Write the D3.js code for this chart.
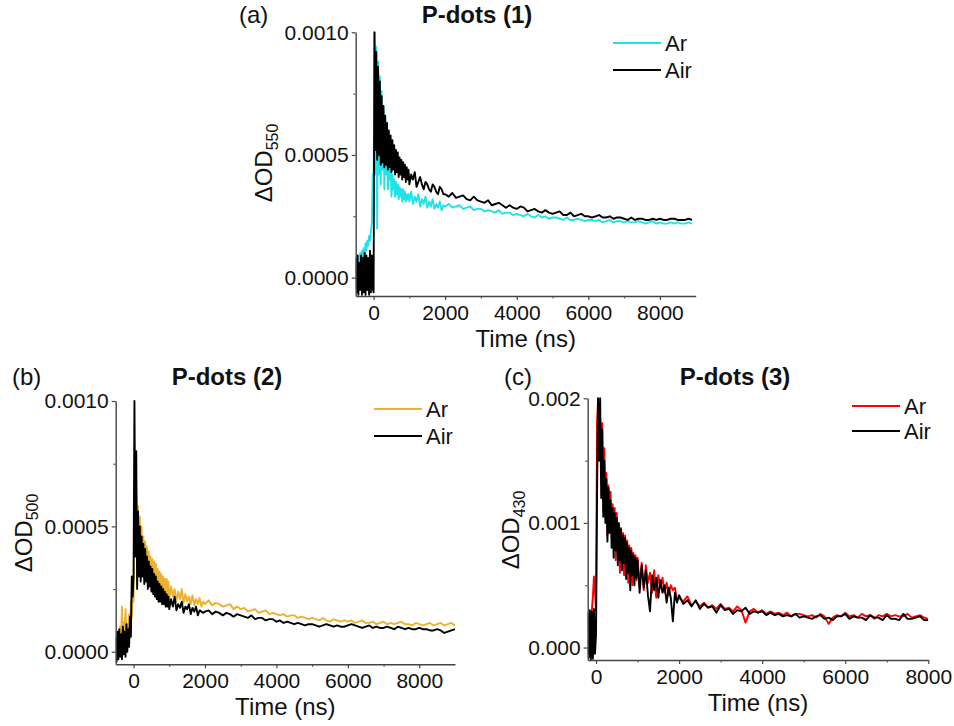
<!DOCTYPE html>
<html>
<head>
<meta charset="utf-8">
<title>P-dots transient absorption</title>
<script src="https://cdn.jsdelivr.net/npm/d3@7"></script>
<style>
    body { margin: 0; background: #fff; }
    text { font-family: "Liberation Sans", Arial, sans-serif; fill: #111; }
</style>
</head>
<body>
<script>

    const width = 954;
    const height = 726;

    // all ΔOD values below are in units of 1e-5
    const odUnit = 1e-5;

    // time grid (ns) for panels (a) and (b)
    const timeAB = [
        -500, -475, -450, -425, -400, -375, -350, -325, -300, -275, -250, -225, -200, -175, -150, -125, -100, -75, -50, -25,
        0, 25, 50, 75, 100, 125, 150, 175, 200, 225, 250, 275, 300, 325, 350, 375, 400, 425, 450, 475,
        500, 525, 550, 575, 600, 625, 650, 675, 700, 725, 750, 775, 800, 825, 850, 875, 900, 925, 950, 975,
        1000, 1050, 1100, 1150, 1200, 1250, 1300, 1350, 1400, 1450, 1500, 1550, 1600, 1650, 1700, 1750, 1800, 1850, 1900, 1950,
        2000, 2100, 2200, 2300, 2400, 2500, 2600, 2700, 2800, 2900, 3000, 3100, 3200, 3300, 3400, 3500, 3600, 3700, 3800, 3900,
        4000, 4100, 4200, 4300, 4400, 4500, 4600, 4700, 4800, 4900, 5000, 5100, 5200, 5300, 5400, 5500, 5600, 5700, 5800, 5900,
        6000, 6100, 6200, 6300, 6400, 6500, 6600, 6700, 6800, 6900, 7000, 7100, 7200, 7300, 7400, 7500, 7600, 7700, 7800, 7900,
        8000, 8100, 8200, 8300, 8400, 8500, 8600, 8700, 8800, 8900, 9000
    ];

    // time grid (ns) for panel (c)
    const timeC = [
        -200, -175, -150, -125, -100, -75, -50, -25,
        0, 25, 50, 75, 100, 125, 150, 175, 200, 225, 250, 275, 300, 325, 350, 375, 400, 425, 450, 475,
        500, 525, 550, 575, 600, 625, 650, 675, 700, 725, 750, 775, 800, 825, 850, 875, 900, 925, 950, 975,
        1000, 1050, 1100, 1150, 1200, 1250, 1300, 1350, 1400, 1450, 1500, 1550, 1600, 1650, 1700, 1750, 1800, 1850, 1900, 1950,
        2000, 2100, 2200, 2300, 2400, 2500, 2600, 2700, 2800, 2900, 3000, 3100, 3200, 3300, 3400, 3500, 3600, 3700, 3800, 3900,
        4000, 4100, 4200, 4300, 4400, 4500, 4600, 4700, 4800, 4900, 5000, 5100, 5200, 5300, 5400, 5500, 5600, 5700, 5800, 5900,
        6000, 6100, 6200, 6300, 6400, 6500, 6600, 6700, 6800, 6900, 7000, 7100, 7200, 7300, 7400, 7500, 7600, 7700, 7800, 7900,
        8000
    ];

    // (a) P-dots (1), ΔOD at 550 nm
    const arA = [
        -4, 8, 2, 9, 5, 10, 6, 11, 8, 12, 9, 14, 11, 15, 13, 17, 15, 19, 22, 42,
        35, 100, 42, 94, 20, 88, 42, 82, 38, 76, 44, 70, 36, 64, 42, 58, 36, 50, 40, 45,
        33, 42, 36, 40, 33, 39, 34, 38, 32, 37, 33, 36, 31, 36, 32, 35, 31, 34, 32, 34,
        31, 35, 30, 33, 31, 34, 29, 32, 30, 33, 28.5, 31, 29, 32, 28, 30, 28.5, 31, 27.5, 29.5,
        29, 30, 28.5, 29, 29.5, 28, 28.5, 29, 27.5, 28, 28, 27, 27.5, 27, 26.5, 27.5, 26, 26.5, 26.5, 25.5,
        26, 25.5, 25, 26, 25, 24.5, 25.5, 24.5, 25, 24, 24.5, 24.5, 24, 23.5, 24.5, 23.5, 23.5, 24, 23.5, 23,
        23.5, 23.5, 23, 23.5, 22.5, 23, 23.5, 22.5, 23, 23, 22.5, 23, 22.5, 22.5, 23, 22.5, 22, 22.5, 23, 22,
        22.5, 22, 22, 22.5, 22, 22.5, 22, 22, 22.5, 22
    ];
    const airA = [
        8, -6, 9, -7, 6, -5, 9, -7, 8, -6, 10, -7, 9, -5, 8, -7, 11, -6, 9, -4,
        -6, 100, 52, 92, 48, 86, 50, 80, 46, 74, 47, 70, 45, 66, 46, 63, 44, 60, 45, 58,
        43, 56, 44, 54, 42, 52, 43, 51, 41, 49, 42, 48, 40, 47, 41, 46, 39, 45, 40, 44,
        38, 42, 40, 43, 37, 39, 41, 38, 36, 39, 38, 36, 35, 38, 37, 35, 34, 37, 36, 34,
        34, 33, 34.5, 32.5, 33, 33.5, 32, 31.5, 33, 31.5, 31, 30.5, 31.5, 29.5, 30, 30.5, 29.5, 28.5, 29.5, 28.5,
        28, 29, 28.5, 27, 27.5, 28, 27, 26.5, 27.5, 26.5, 26, 26.5, 27, 25.5, 25.5, 26.5, 25, 25.5, 26, 25,
        25, 24.5, 25, 25.5, 24.5, 24.5, 25, 24, 24.5, 24.5, 24, 23.5, 24.5, 23.5, 24, 24, 23.5, 23.5, 24, 23.5,
        24, 23.5, 23.5, 24, 24, 23.5, 23.5, 23.5, 24, 23.5
    ];

    // (b) P-dots (2), ΔOD at 500 nm
    const arB = [
        -4, 6, 2, 8, 4, 10, 5, 18, 6, 12, 8, 17, 7, 11, 9, 15, 10, 20, 14, 24,
        20, 60, 50, 64, 40, 58, 34, 54, 33, 50, 32, 46, 30, 44, 30, 42, 28, 40, 28, 38,
        27, 37, 26, 36, 25, 35, 24, 33, 24, 32, 23, 31, 23, 30, 22, 29, 22, 29, 21, 28,
        21, 26, 22, 25, 20, 24, 21, 25, 19.5, 23, 20, 22, 19, 22.5, 18.5, 21, 19, 21.5, 18, 20,
        19, 20.5, 18.5, 19.5, 19, 18, 18.5, 19, 17, 18, 17, 17.5, 16, 16.5, 17, 15.5, 16, 16.5, 15, 15.5,
        15, 14.5, 15, 14, 14.5, 14.5, 13.5, 14, 13.5, 13, 13.5, 13, 12.5, 13.5, 12.5, 12, 13, 12.5, 12, 12.5,
        12, 12.5, 11.5, 12, 12.5, 11.5, 11.5, 12, 11, 11.5, 12, 11, 11.5, 11, 11.5, 12, 11, 11, 10.5, 11.5,
        11, 10.5, 11, 11.5, 10.5, 11, 11.5, 10.5, 11, 11.5, 10.5
    ];
    const airB = [
        6, -4, 8, -3, 9, -2, 7, -3, 10, -1, 8, -2, 11, 0, 9, 2, 14, 6, 30, 22,
        30, 100, 38, 80, 25, 56, 30, 50, 28, 46, 30, 43, 27, 41, 28, 38, 25, 36, 26, 34,
        24, 33, 23, 31, 22, 30, 21, 28, 20, 27, 20, 26, 19, 25, 19, 24, 18, 23, 18, 22,
        17, 21, 18, 22, 16.5, 19, 17.5, 20, 15.5, 18, 17, 19, 15, 17.5, 16, 18, 14.5, 16.5, 16, 15.5,
        16, 16.5, 15, 16, 15.5, 14.5, 15.5, 15, 14, 15, 14.5, 14, 13.5, 14.5, 13, 13.5, 13.5, 12.5, 13, 13,
        12, 12.5, 11.5, 12, 11.5, 11, 11.5, 11, 10.5, 11, 11, 10.5, 10, 10.5, 11, 10.5, 10, 10.5, 10, 10,
        10.5, 11, 10.5, 10, 9.5, 10, 10.5, 9.5, 10, 9.5, 9.5, 10, 9.5, 9, 10, 9.5, 9, 9.5, 9, 9,
        9.5, 9, 9, 8.5, 8.5, 9, 8.5, 7.5, 8, 8.5, 9
    ];

    // (c) P-dots (3), ΔOD at 430 nm
    const arC = [
        -5, 10, 20, 25, 30, 41, 57, 45,
        30, 180, 200, 160, 185, 140, 180, 110, 160, 120, 140, 90, 130, 100, 125, 95, 115, 80, 112, 70,
        108, 75, 98, 60, 96, 72, 92, 58, 90, 66, 86, 52, 82, 62, 80, 50, 76, 60, 74, 54,
        72, 50, 68, 46, 66, 52, 60, 44, 62, 40, 58, 48, 56, 44, 52, 42, 50, 46, 48, 38,
        40, 37, 41, 34, 37, 33, 36, 32, 34, 31, 35, 31, 32, 29, 33, 30, 20, 29, 31, 28,
        30, 27, 29, 27, 28, 26, 28, 25, 27, 27, 26, 25, 26, 24, 27, 25, 19, 24, 26, 25,
        28, 25, 26, 24, 27, 25, 26, 23, 26, 25, 27, 25, 26, 25, 25, 27, 24, 25, 26, 24,
        23
    ];
    const airC = [
        28, -8, 30, -10, 29, -9, 31, -5,
        10, 120, 200, 150, 200, 120, 175, 105, 150, 100, 135, 85, 128, 92, 118, 80, 112, 72, 108, 78,
        104, 66, 100, 70, 95, 62, 90, 68, 88, 55, 84, 60, 80, 46, 78, 58, 74, 50, 72, 56,
        70, 44, 66, 48, 62, 42, 29, 58, 46, 56, 40, 54, 44, 50, 36, 48, 40, 21, 44, 36,
        42, 35, 38, 33, 38, 31, 35, 32, 33, 28, 34, 30, 31, 27, 30, 29, 32, 27, 29, 28,
        29, 26, 28, 26, 27, 25, 26, 25, 27, 24, 25, 24, 23, 25, 26, 23, 24, 22, 25, 25,
        27, 23, 25, 24, 24, 22, 26, 24, 24, 22, 26, 23, 23, 22, 27, 23, 23, 24, 25, 22,
        22
    ];

    const seriesNames = ["Ar", "Air"];
    const panelTitles = ["P-dots (1)", "P-dots (2)", "P-dots (3)"];
    const panelLetters = ["(a)", "(b)", "(c)"];
    const probeWavelengths = ["550", "500", "430"];

    const xTickValues = [0, 2000, 4000, 6000, 8000];
    const xMinorValues = [1000, 3000, 5000, 7000];
    const yTicksAB = [0, 50, 100];
    const yMinorAB = [25, 75];
    const yTicksC = [0, 100, 200];
    const yMinorC = [50, 150];

    const svg = d3.select("body").append("svg")
        .attr("width", width)
        .attr("height", height);

    const axisColor = "#444";

    const styleAxis = (g, fontSize) => {
        g.attr("font-family", null).attr("font-size", fontSize);
        g.select(".domain").attr("stroke", axisColor).attr("stroke-width", 1.4);
        g.selectAll(".tick line").attr("stroke", axisColor).attr("stroke-width", 1.2);
        g.selectAll(".tick text").attr("fill", "#111");
    };

    const drawPanel = (p) => {

        const x = d3.scaleLinear().domain(p.xDomain).range([p.left, p.right]);
        const y = d3.scaleLinear().domain(p.yDomain).range([p.bottom, p.top]);

        const clipId = "clip-" + p.id;
        svg.append("clipPath").attr("id", clipId)
            .append("rect")
            .attr("x", p.left)
            .attr("y", p.top - 1)
            .attr("width", p.right - p.left)
            .attr("height", p.bottom - p.top + 1);

        const line = d3.line()
            .x(d => x(d[0]))
            .y(d => y(d[1]));

        let g = svg.append("g").attr("clip-path", `url(#${clipId})`);

        p.series.forEach(s => {
            const pts = s.values.map((v, i) => [p.time[i], v]);
            g.append("path")
                .datum(pts)
                .attr("fill", "none")
                .attr("stroke", s.color)
                .attr("stroke-width", 1.9)
                .attr("stroke-linejoin", "round")
                .attr("d", line);
        });

        // minor ticks first, then major axes on top
        svg.append("g")
            .attr("transform", `translate(0,${p.bottom})`)
            .call(d3.axisBottom(x).tickValues(xMinorValues.filter(v => v <= p.xDomain[1]))
                .tickSize(2.5).tickFormat(""))
            .call(g => { g.select(".domain").remove(); g.selectAll("line").attr("stroke", axisColor); });

        svg.append("g")
            .attr("transform", `translate(${p.left},0)`)
            .call(d3.axisLeft(y).tickValues(p.yMinor).tickSize(2.5).tickFormat(""))
            .call(g => { g.select(".domain").remove(); g.selectAll("line").attr("stroke", axisColor); });

        svg.append("g")
            .attr("transform", `translate(0,${p.bottom})`)
            .call(d3.axisBottom(x).tickValues(xTickValues).tickSize(4).tickPadding(5).tickSizeOuter(0)
                .tickFormat(d3.format("d")))
            .call(g => styleAxis(g, 21));

        const yFmt = d3.format(p.yFormat);
        svg.append("g")
            .attr("transform", `translate(${p.left},0)`)
            .call(d3.axisLeft(y).tickValues(p.yTicks).tickSize(4).tickPadding(3).tickSizeOuter(0)
                .tickFormat(v => yFmt(v * odUnit)))
            .call(g => styleAxis(g, 21));

        // axis titles
        svg.append("text")
            .attr("x", (p.left + p.right) / 2)
            .attr("y", p.bottom + 51)
            .attr("text-anchor", "middle")
            .attr("font-size", 24)
            .text("Time (ns)");

        const yt = svg.append("text")
            .attr("transform", `translate(${p.yLabelX},${p.yLabelY}) rotate(-90)`)
            .attr("text-anchor", "middle")
            .attr("font-size", 24);
        yt.append("tspan").text("\u0394OD");
        yt.append("tspan").attr("font-size", 16).attr("dy", 6).text(p.wavelength);

        // title and panel letter
        svg.append("text")
            .attr("x", p.titleX)
            .attr("y", p.titleY)
            .attr("text-anchor", "middle")
            .attr("font-size", 24)
            .attr("font-weight", "bold")
            .text(p.title);

        svg.append("text")
            .attr("x", p.letterX)
            .attr("y", p.titleY)
            .attr("font-size", 24)
            .text(p.letter);

        // legend
        p.series.forEach((s, i) => {
            const ly = p.legendY + i * p.legendStep;
            svg.append("line")
                .attr("x1", p.legendX)
                .attr("x2", p.legendX + 48)
                .attr("y1", ly)
                .attr("y2", ly)
                .attr("stroke", s.color)
                .attr("stroke-width", 2);
            svg.append("text")
                .attr("x", p.legendX + 52)
                .attr("y", ly)
                .attr("dy", "0.36em")
                .attr("font-size", 22)
                .text(s.name);
        });
    };

    const panels = [
        {
            id: "a", time: timeAB, xDomain: [-500, 9000], yDomain: [-7.5, 100],
            left: 355.7, right: 695.7, top: 32.3, bottom: 296,
            yTicks: yTicksAB, yMinor: yMinorAB, yFormat: ".4f",
            yLabelX: 272, yLabelY: 163,
            titleX: 477, titleY: 23, letterX: 239,
            legendX: 613, legendY: 43, legendStep: 27,
            series: [
                { name: seriesNames[0], values: arA, color: "#1ee3e8" },
                { name: seriesNames[1], values: airA, color: "#000" }
            ]
        },
        {
            id: "b", time: timeAB, xDomain: [-500, 9000], yDomain: [-5, 100],
            left: 115.7, right: 455, top: 401, bottom: 664.3,
            yTicks: yTicksAB, yMinor: yMinorAB, yFormat: ".4f",
            yLabelX: 32, yLabelY: 533,
            titleX: 227, titleY: 385, letterX: 12,
            legendX: 374, legendY: 409, legendStep: 27,
            series: [
                { name: seriesNames[0], values: arB, color: "#edb12f" },
                { name: seriesNames[1], values: airB, color: "#000" }
            ]
        },
        {
            id: "c", time: timeC, xDomain: [-200, 8000], yDomain: [-10, 200],
            left: 587.7, right: 928.3, top: 398.3, bottom: 660,
            yTicks: yTicksC, yMinor: yMinorC, yFormat: ".3f",
            yLabelX: 519, yLabelY: 530,
            titleX: 735, titleY: 385, letterX: 504,
            legendX: 852, legendY: 406, legendStep: 25,
            series: [
                { name: seriesNames[0], values: arC, color: "#ff0000" },
                { name: seriesNames[1], values: airC, color: "#000" }
            ]
        }
    ];

    panels.forEach((p, i) => {
        p.title = panelTitles[i];
        p.letter = panelLetters[i];
        p.wavelength = probeWavelengths[i];
        drawPanel(p);
    });

</script>
</body>
</html>
